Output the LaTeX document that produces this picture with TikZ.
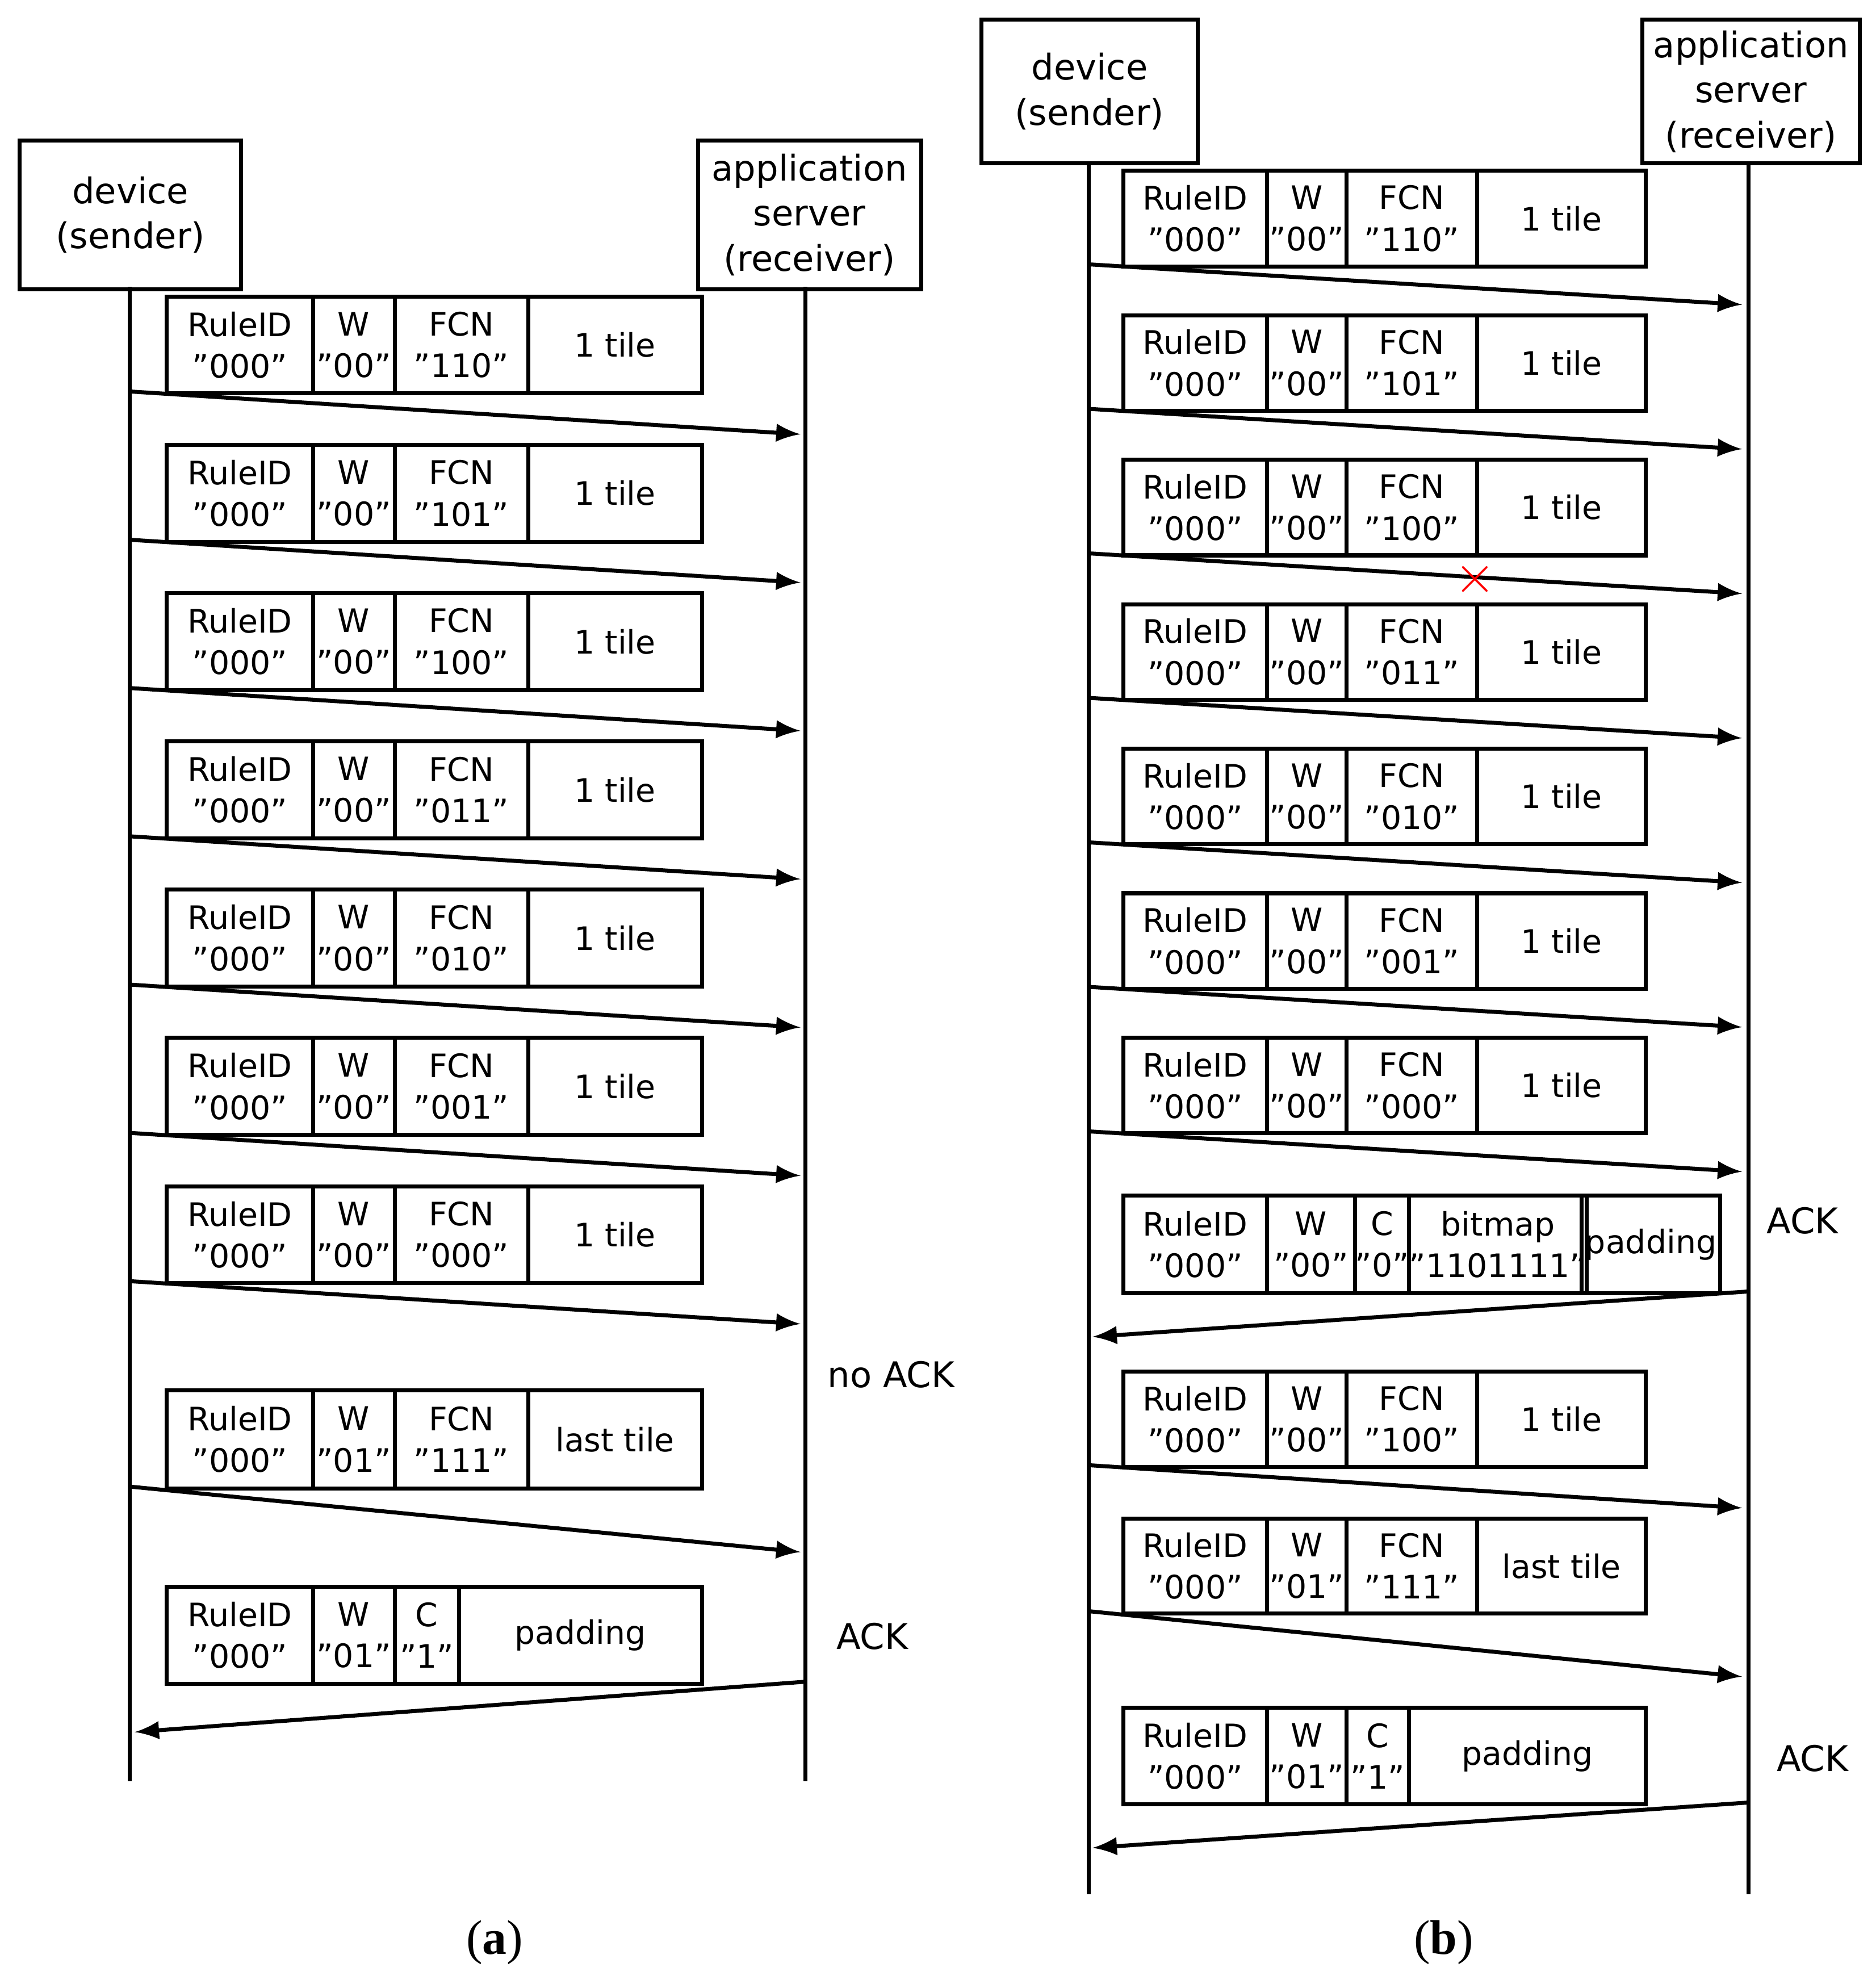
\documentclass[tikz,border=0pt]{standalone}
\usepackage{fontspec}
\setmainfont{DejaVu Sans}
\newfontfamily\serifcap{Liberation Serif}
\begin{document}
\begin{tikzpicture}[x=0.01cm,y=-0.01cm,
  cell/.style={draw,line width=0.9pt,anchor=north west,inner sep=0pt,align=center,font=\fontsize{7.3}{9.4}\selectfont},
  actor/.style={draw,line width=0.9pt,anchor=north west,inner sep=0pt,align=center,font=\fontsize{8}{10.2}\selectfont},
  life/.style={line width=0.9pt},
  msg/.style={line width=0.9pt,-latex},
  lbl/.style={font=\fontsize{8}{10}\selectfont}]
\useasboundingbox (0,0) rectangle (1490,1573);
\newcommand\cell[6]{\node[cell,minimum width={(#3-#2)*0.01cm},minimum height={#5*0.01cm}] (#1) at (#2,#4) {#6};}
% ---------- panel a
\node[actor,minimum width=1.76cm,minimum height=1.18cm] (devA) at (14,110) {device\\(sender)};
\node[actor,minimum width=1.77cm,minimum height=1.18cm] (appA) at (553,110) {application\\server\\(receiver)};
\coordinate (dAe) at (103,1415); \coordinate (aAe) at (640,1415);
\draw[life] (103,228) -- (dAe); \draw[life] (640,228) -- (aAe);
\foreach \i/\f in {0/110,1/101,2/100,3/011,4/010,5/001,6/000}{
  \pgfmathsetmacro\t{234+117.8*\i}
  \cell{aR\i}{131}{247}{\t}{77}{RuleID\\"000"}
  \cell{aW\i}{247}{312}{\t}{77}{W\\"00"}
  \cell{aF\i}{312}{418}{\t}{77}{FCN\\"\f"}
  \cell{aT\i}{418}{556}{\t}{77}{1 tile}
  \coordinate (as\i) at (103,\t+77); \coordinate (ar\i) at (636,\t+111);
  \draw[msg] (as\i) -- (ar\i);
}
\node[lbl] (noack) at (708,1092) {no ACK};
\cell{aR7}{131}{247}{1103}{78}{RuleID\\"000"}
\cell{aW7}{247}{312}{1103}{78}{W\\"01"}
\cell{aF7}{312}{418}{1103}{78}{FCN\\"111"}
\cell{aT7}{418}{556}{1103}{78}{last tile}
\coordinate (as7) at (103,1181); \coordinate (ar7) at (636,1233);
\draw[msg] (as7) -- (ar7);
\cell{aR8}{131}{247}{1259}{77}{RuleID\\"000"}
\cell{aW8}{247}{312}{1259}{77}{W\\"01"}
\cell{aC8}{312}{363}{1259}{77}{C\\"1"}
\cell{aP8}{363}{556}{1259}{77}{padding}
\node[lbl] (ackA) at (693,1300) {ACK};
\coordinate (as8) at (640,1336); \coordinate (ar8) at (107,1376);
\draw[msg] (as8) -- (ar8);
\node[font=\serifcap\fontsize{11}{13}\selectfont] (capA) at (393,1543) {(\textbf{a})};
% ---------- panel b
\node[actor,minimum width=1.72cm,minimum height=1.14cm] (devB) at (778,14) {device\\(sender)};
\node[actor,minimum width=1.73cm,minimum height=1.14cm] (appB) at (1303,14) {application\\server\\(receiver)};
\coordinate (dBe) at (865,1505); \coordinate (aBe) at (1389,1505);
\draw[life] (865,128) -- (dBe); \draw[life] (1389,128) -- (aBe);
\foreach \i/\f in {0/110,1/101,2/100,3/011,4/010,5/001,6/000}{
  \pgfmathsetmacro\t{134+114.8*\i}
  \cell{bR\i}{891}{1005}{\t}{76}{RuleID\\"000"}
  \cell{bW\i}{1005}{1068}{\t}{76}{W\\"00"}
  \cell{bF\i}{1068}{1172}{\t}{76}{FCN\\"\f"}
  \cell{bT\i}{1172}{1306}{\t}{76}{1 tile}
  \coordinate (bs\i) at (865,\t+76); \coordinate (br\i) at (1384,\t+108);
  \draw[msg] (bs\i) -- (br\i);
}
\node[text=red,font=\fontsize{12}{12}\selectfont\bfseries,inner sep=0pt] (lost) at (1172,460) {$\times$};
\cell{bR7}{891}{1005}{948}{78}{RuleID\\"000"}
\cell{bW7}{1005}{1075}{948}{78}{W\\"00"}
\cell{bC7}{1075}{1118}{948}{78}{C\\"0"}
\cell{bB7}{1118}{1255}{948}{78}{bitmap\\"1101111"}
\cell{bP7}{1255}{1365}{948}{78}{padding}
\node[lbl] (ackB1) at (1432,970) {ACK};
\coordinate (bs7) at (1389,1026); \coordinate (br7) at (868,1062);
\draw[msg] (bs7) -- (br7);
\cell{bR8}{891}{1005}{1088}{76}{RuleID\\"000"}
\cell{bW8}{1005}{1068}{1088}{76}{W\\"00"}
\cell{bF8}{1068}{1172}{1088}{76}{FCN\\"100"}
\cell{bT8}{1172}{1306}{1088}{76}{1 tile}
\coordinate (bs8) at (865,1164); \coordinate (br8) at (1384,1198);
\draw[msg] (bs8) -- (br8);
\cell{bR9}{891}{1005}{1205}{75}{RuleID\\"000"}
\cell{bW9}{1005}{1068}{1205}{75}{W\\"01"}
\cell{bF9}{1068}{1172}{1205}{75}{FCN\\"111"}
\cell{bT9}{1172}{1306}{1205}{75}{last tile}
\coordinate (bs9) at (865,1280); \coordinate (br9) at (1384,1332);
\draw[msg] (bs9) -- (br9);
\cell{bR10}{891}{1005}{1355}{77}{RuleID\\"000"}
\cell{bW10}{1005}{1068}{1355}{77}{W\\"01"}
\cell{bC10}{1068}{1118}{1355}{77}{C\\"1"}
\cell{bP10}{1118}{1306}{1355}{77}{padding}
\node[lbl] (ackB2) at (1440,1397) {ACK};
\coordinate (bs10) at (1389,1432); \coordinate (br10) at (868,1468);
\draw[msg] (bs10) -- (br10);
\node[font=\serifcap\fontsize{11}{13}\selectfont] (capB) at (1147,1543) {(\textbf{b})};
\end{tikzpicture}
\end{document}
